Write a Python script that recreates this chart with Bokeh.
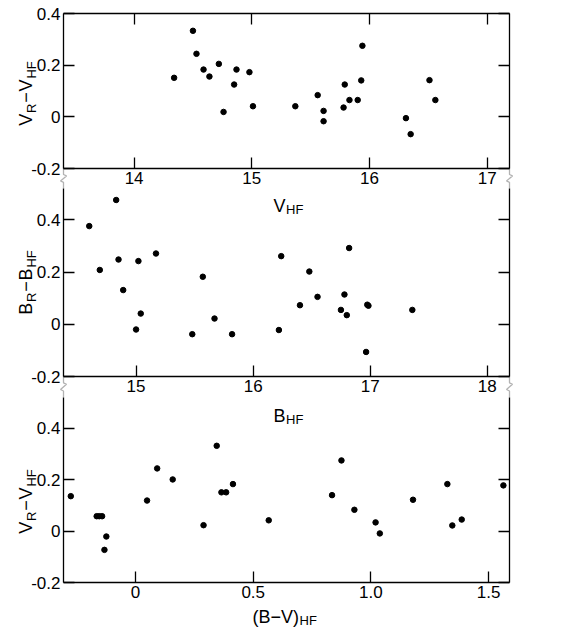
import math
from bokeh.plotting import figure
from bokeh.models import (Range1d, LinearAxis, FixedTicker, CustomJSTickFormatter,
                          Label, PolyAnnotation)
from bokeh.embed import file_html
from bokeh.resources import INLINE

# ---------------- data ----------------
# panel 1: V_HF vs V_R - V_HF
v_hf = [14.34, 14.50, 14.53, 14.59, 14.64, 14.72, 14.76, 14.85, 14.87, 14.98, 15.01,
        15.37, 15.56, 15.61, 15.61, 15.78, 15.79, 15.83, 15.90, 15.93, 15.94,
        16.31, 16.35, 16.51, 16.56]
dv_top = [0.151, 0.333, 0.244, 0.183, 0.156, 0.205, 0.019, 0.125, 0.183, 0.173, 0.041,
          0.041, 0.084, 0.023, -0.017, 0.036, 0.125, 0.065, 0.065, 0.141, 0.275,
          -0.005, -0.067, 0.142, 0.065]

# panel 2: B_HF vs B_R - B_HF
b_hf = [14.60, 14.69, 14.83, 14.85, 14.89, 15.00, 15.02, 15.04, 15.17, 15.48, 15.57,
        15.67, 15.82, 16.22, 16.24, 16.40, 16.48, 16.55, 16.75, 16.78, 16.80, 16.82,
        16.965, 16.975, 16.985, 17.36]
db_mid = [0.376, 0.208, 0.476, 0.248, 0.131, -0.020, 0.242, 0.041, 0.271, -0.038, 0.182,
          0.022, -0.038, -0.022, 0.261, 0.073, 0.202, 0.105, 0.055, 0.114, 0.035, 0.292,
          -0.106, 0.075, 0.071, 0.055]

# panel 3: (B-V)_HF vs V_R - V_HF
bv_hf = [-0.275, -0.165, -0.154, -0.142, -0.124, -0.132, 0.049, 0.092, 0.158, 0.289,
         0.345, 0.365, 0.385, 0.414, 0.566, 0.835, 0.875, 0.930, 1.020, 1.038,
         1.179, 1.325, 1.346, 1.386, 1.563]
dv_bot = [0.136, 0.058, 0.058, 0.058, -0.021, -0.073, 0.119, 0.244, 0.201, 0.023,
          0.332, 0.151, 0.151, 0.183, 0.042, 0.140, 0.275, 0.083, 0.034, -0.009,
          0.122, 0.183, 0.022, 0.045, 0.178]

y_ticks = [-0.2, 0.0, 0.2, 0.4]
y_tick_labels = ["-0.2", "0", "0.2", "0.4"]
x1_ticks = [14, 15, 16, 17]
x1_tick_labels = ["14", "15", "16", "17"]
x2_ticks = [15, 16, 17, 18]
x2_tick_labels = ["15", "16", "17", "18"]
x3_ticks = [0.0, 0.5, 1.0, 1.5]
x3_tick_labels = ["0", "0.5", "1.0", "1.5"]

# ---------------- layout (page pixel geometry) ----------------
FONT = "Liberation Sans"
CX0, CX1 = 0, 568          # canvas extent on page (x)
CY0, CY1 = 0, 629          # canvas extent on page (y)
FL, FR = 63, 509           # panel left/right on page

panels = [
    dict(xr=(13.40, 17.19), yr=(-0.2, 0.40), top=13, bottom=168,
         xt=x1_ticks, xl=x1_tick_labels, above=True),
    dict(xr=(14.38, 18.19), yr=(-0.2, 0.52), top=188, bottom=376,
         xt=x2_ticks, xl=x2_tick_labels, above=False),
    dict(xr=(-0.306, 1.589), yr=(-0.2, 0.52), top=397, bottom=582,
         xt=x3_ticks, xl=x3_tick_labels, above=False),
]

# whole canvas is the frame; main ranges are page pixels (y downward)
p = figure(width=CX1 - CX0, height=CY1 - CY0,
           x_range=Range1d(CX0, CX1), y_range=Range1d(CY1, CY0),
           output_backend="svg", toolbar_location=None,
           x_axis_location=None, y_axis_location=None,
           min_border=0, min_border_left=0, min_border_right=0,
           min_border_top=0, min_border_bottom=0)
p.outline_line_color = None
p.background_fill_color = "white"
p.border_fill_color = "white"
for gr in p.grid:
    gr.visible = False


def label_formatter(ticks, labels):
    return CustomJSTickFormatter(args=dict(t=ticks, l=labels), code="""
        for (let i = 0; i < t.length; i++) { if (Math.abs(tick - t[i]) < 1e-9) return l[i]; }
        return '';""")


def blank_formatter():
    return CustomJSTickFormatter(code="return '';")


def style_axis(ax, show_labels):
    ax.axis_line_color = "black"
    ax.axis_line_width = 1.3
    ax.major_tick_line_color = "black"
    ax.major_tick_line_width = 1.3
    ax.major_tick_in = 11
    ax.major_tick_out = 0
    ax.minor_tick_in = 0
    ax.minor_tick_out = 0
    ax.minor_tick_line_color = None
    if show_labels:
        ax.major_label_text_font = FONT
        ax.major_label_text_font_size = "17px"
        ax.major_label_text_color = "black"
        ax.major_label_standoff = 3
    else:
        ax.major_label_text_font_size = "0px"
        ax.major_label_standoff = 0


for k, g in enumerate(panels):
    (a, b), (c, d) = g["xr"], g["yr"]
    sx = (b - a) / (FR - FL)
    sy = (d - c) / (g["bottom"] - g["top"])
    xn, yn = f"x{k}", f"y{k}"
    p.extra_x_ranges[xn] = Range1d(a + (CX0 - FL) * sx, a + (CX1 - FL) * sx)
    p.extra_y_ranges[yn] = Range1d(c + (g["bottom"] - CY1) * sy, c + (g["bottom"] - CY0) * sy)

    left = LinearAxis(x_range_name=xn, y_range_name=yn, fixed_location=a, bounds=(c, d),
                      ticker=FixedTicker(ticks=y_ticks, minor_ticks=[]),
                      formatter=label_formatter(y_ticks, y_tick_labels))
    style_axis(left, True)
    p.add_layout(left, "left")

    right = LinearAxis(x_range_name=xn, y_range_name=yn, fixed_location=b, bounds=(c, d),
                       ticker=FixedTicker(ticks=y_ticks, minor_ticks=[]),
                       formatter=blank_formatter())
    style_axis(right, False)
    p.add_layout(right, "right")

    below = LinearAxis(x_range_name=xn, y_range_name=yn, fixed_location=c, bounds=(a, b),
                       ticker=FixedTicker(ticks=g["xt"], minor_ticks=[]),
                       formatter=label_formatter(g["xt"], g["xl"]))
    style_axis(below, True)
    p.add_layout(below, "below")

    if g["above"]:
        above = LinearAxis(x_range_name=xn, y_range_name=yn, fixed_location=d, bounds=(a, b),
                           ticker=FixedTicker(ticks=g["xt"], minor_ticks=[]),
                           formatter=blank_formatter())
        style_axis(above, False)
        p.add_layout(above, "above")

p.scatter(v_hf, dv_top, size=5.5, color="black", x_range_name="x0", y_range_name="y0")
p.scatter(b_hf, db_mid, size=5.5, color="black", x_range_name="x1", y_range_name="y1")
p.scatter(bv_hf, dv_bot, size=5.5, color="black", x_range_name="x2", y_range_name="y2")

# ---------------- text labels with subscripts ----------------
EM = {"V": .667, "R": .722, "B": .667, "H": .722, "F": .611, "\u2212": .584,
      "(": .333, ")": .333, " ": .278}
MAIN, SUB = 18, 13


def text_w(s, size):
    return sum(EM.get(ch, .6) for ch in s) * size


def add_piece(px, py, text, size, angle=0.0):
    p.add_layout(Label(x=px, y=py, text=text, angle=angle, text_font=FONT,
                       text_font_size=f"{size}px", text_color="black",
                       text_align="left", text_baseline="alphabetic"))


def y_label(pieces, center_py, base_x=25, sub_dx=6):
    gap = 0.8
    total = sum(text_w(t, SUB if s else MAIN) for t, s in pieces) + gap * (len(pieces) - 1)
    py = center_py + total / 2
    for t, s in pieces:
        size = SUB if s else MAIN
        add_piece(base_x + (sub_dx if s else 0), py, t, size, angle=math.pi / 2)
        py -= text_w(t, size) + gap


def x_label(pieces, start_px, base_py, sub_dy=4):
    px = start_px
    for t, s in pieces:
        size = SUB if s else MAIN
        add_piece(px, base_py + (sub_dy if s else 0), t, size)
        px += text_w(t, size) + 0.5


vr_vhf = [("V", False), ("R", True), ("\u2212", False), ("V", False), ("HF", True)]
br_bhf = [("B", False), ("R", True), ("\u2212", False), ("B", False), ("HF", True)]
y_label(vr_vhf, 93)
y_label(br_bhf, 282)
y_label(vr_vhf, 501)

x_label([("V", False), ("HF", True)], 273, 205)
x_label([("B", False), ("HF", True)], 273, 415)
x_label([("(B\u2212V)", False), ("HF", True)], 252, 616)

# ---------------- axis breaks between panels ----------------
def add_break(x_edge, py_top, py_bot):
    h = py_bot - py_top
    pts = [(0, 0), (0, 0.3 * h), (3, 0.37 * h), (-3, 0.62 * h), (0, 0.69 * h), (0, h)]
    path = pts + pts[-2:0:-1]
    xs = [x_edge + dx for dx, dy in path]
    ys = [py_top + dy for dx, dy in path]
    p.add_layout(PolyAnnotation(xs=xs, ys=ys, xs_units="data", ys_units="data",
                                fill_color=None, fill_alpha=0,
                                line_color="black", line_width=1.3))


for xe in (FL, FR):
    add_break(xe, panels[0]["bottom"], panels[1]["top"])
    add_break(xe, panels[1]["bottom"], panels[2]["top"])

open("out.html", "w").write(file_html(p, INLINE))
